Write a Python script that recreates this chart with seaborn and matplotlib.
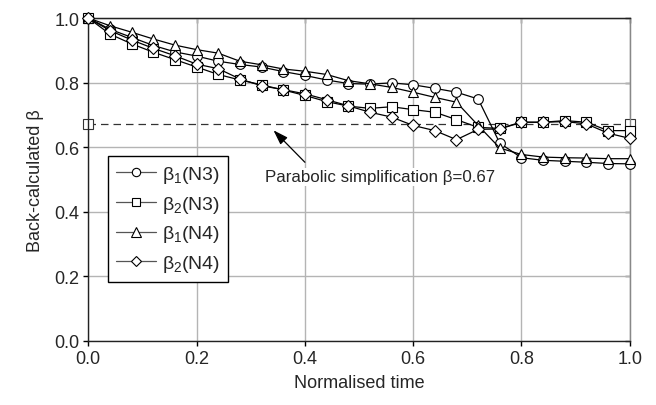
import matplotlib
matplotlib.use("Agg")
import matplotlib.pyplot as plt
import seaborn as sns
import pandas as pd
from matplotlib.lines import Line2D

# ---- data ----
t = [0.00, 0.04, 0.08, 0.12, 0.16, 0.20, 0.24, 0.28, 0.32, 0.36, 0.40, 0.44, 0.48,
     0.52, 0.56, 0.60, 0.64, 0.68, 0.72, 0.76, 0.80, 0.84, 0.88, 0.92, 0.96, 1.00]
b1_n3 = [1.000, 0.965, 0.940, 0.915, 0.895, 0.882, 0.866, 0.856, 0.848, 0.834, 0.822, 0.808, 0.797,
         0.795, 0.799, 0.793, 0.782, 0.770, 0.749, 0.612, 0.567, 0.559, 0.556, 0.553, 0.549, 0.548]
b2_n3 = [1.000, 0.950, 0.920, 0.894, 0.871, 0.848, 0.825, 0.808, 0.793, 0.777, 0.760, 0.741, 0.727,
         0.720, 0.725, 0.716, 0.708, 0.685, 0.661, 0.658, 0.677, 0.677, 0.682, 0.677, 0.651, 0.651]
b1_n4 = [1.000, 0.976, 0.956, 0.935, 0.916, 0.902, 0.891, 0.866, 0.855, 0.842, 0.835, 0.825, 0.806,
         0.796, 0.785, 0.770, 0.754, 0.739, 0.667, 0.597, 0.577, 0.569, 0.567, 0.566, 0.564, 0.564]
b2_n4 = [1.000, 0.961, 0.932, 0.906, 0.883, 0.857, 0.843, 0.811, 0.790, 0.778, 0.765, 0.747, 0.728,
         0.708, 0.693, 0.667, 0.651, 0.623, 0.655, 0.656, 0.677, 0.677, 0.679, 0.672, 0.643, 0.627]
series_labels = [r"$\beta_1$(N3)", r"$\beta_2$(N3)", r"$\beta_1$(N4)", r"$\beta_2$(N4)"]
series_markers = ["o", "s", "^", "D"]
simpl_x = [0.0, 1.0]
simpl_y = [0.67, 0.67]
annot_text = "Parabolic simplification β=0.67"
xticks = [0.0, 0.2, 0.4, 0.6, 0.8, 1.0]
yticks = [0.0, 0.2, 0.4, 0.6, 0.8, 1.0]

sns.set_style("white")
plt.rcParams["font.family"] = ["Liberation Sans", "DejaVu Sans"]
plt.rcParams["mathtext.fontset"] = "custom"
plt.rcParams["mathtext.rm"] = "Liberation Sans"
plt.rcParams["mathtext.it"] = "Liberation Sans"
plt.rcParams["mathtext.bf"] = "Liberation Sans"

fig = plt.figure(figsize=(6.56, 4.06), dpi=100)
ax = fig.add_axes([0.1346, 0.1584, 0.9600 - 0.1346, 0.9532 - 0.1584])

frames = []
for lab, vals in zip(series_labels, [b1_n3, b2_n3, b1_n4, b2_n4]):
    frames.append(pd.DataFrame({"t": t, "beta": vals, "series": lab}))
df = pd.concat(frames, ignore_index=True)

sizes = {"o": 7, "s": 6.5, "^": 7.5, "D": 6.5}
for lab, mk in zip(series_labels, series_markers):
    sub = df[df["series"] == lab]
    sns.lineplot(data=sub, x="t", y="beta", ax=ax, color="black", lw=0.9,
                 marker=mk, markersize=sizes[mk], markerfacecolor="white",
                 markeredgecolor="black", markeredgewidth=0.8, legend=False,
                 zorder=3, clip_on=False)

sns.lineplot(x=simpl_x, y=simpl_y, ax=ax, color="#333333", lw=0.9,
             linestyle=(0, (6, 4)), marker="s", markersize=6.5,
             markerfacecolor="white", markeredgecolor="#333333",
             markeredgewidth=0.8, legend=False, zorder=2, clip_on=False)

ax.set_xlim(0, 1.0)
ax.set_ylim(0, 1.0)
ax.set_xticks(xticks)
ax.set_yticks(yticks)
ax.set_xticklabels([f"{v:.1f}" for v in xticks], fontsize=13)
ax.set_yticklabels([f"{v:.1f}" for v in yticks], fontsize=13)
ax.grid(True, color="#b4b4b4", lw=1.0)
ax.set_axisbelow(True)
ax.tick_params(axis="both", which="both", direction="out", length=3.5,
               width=1, color="black", pad=3, bottom=True, left=True)
for s in ["left", "bottom", "top"]:
    ax.spines[s].set_color("#222222")
    ax.spines[s].set_linewidth(1.0)
ax.spines["right"].set_color("#888888")
ax.spines["right"].set_linewidth(1.0)

# inward ticks on top and right
sec_x = ax.secondary_xaxis("top")
sec_x.set_xticks(xticks)
sec_x.tick_params(direction="in", length=3.5, width=1, color="#333333", labeltop=False)
sec_x.spines["top"].set_color("#222222")
sec_y = ax.secondary_yaxis("right")
sec_y.set_yticks(yticks)
sec_y.tick_params(direction="in", length=3.5, width=1, color="#333333", labelright=False)
sec_y.spines["right"].set_color("#888888")

ax.set_xlabel("Normalised time", fontsize=13, labelpad=5)
ax.set_ylabel("Back-calculated β", fontsize=13, labelpad=7)

ax.annotate("", xy=(0.342, 0.652), xytext=(0.400, 0.553),
            arrowprops=dict(arrowstyle="-|>,head_length=0.9,head_width=0.3",
                            color="black", lw=0.9, shrinkA=0, shrinkB=0))
ax.text(0.326, 0.508, annot_text, fontsize=12.2, va="center", ha="left",
        bbox=dict(facecolor="white", edgecolor="none", pad=1.0), zorder=4)

handles = [Line2D([0], [0], color="#555555", lw=0.9, marker=mk,
                  markersize=sizes[mk] - 1, markerfacecolor="white",
                  markeredgecolor="black", markeredgewidth=0.8)
           for mk in series_markers]
leg = ax.legend(handles, series_labels, loc="lower left",
                bbox_to_anchor=(0.036, 0.182), fontsize=14, frameon=True,
                fancybox=False, edgecolor="black", framealpha=1,
                handlelength=2.1, labelspacing=0.45, borderpad=0.4,
                handletextpad=0.3, borderaxespad=0)
leg.get_frame().set_linewidth(1.0)
leg.set_zorder(5)

fig.savefig("out.png", dpi=100)
